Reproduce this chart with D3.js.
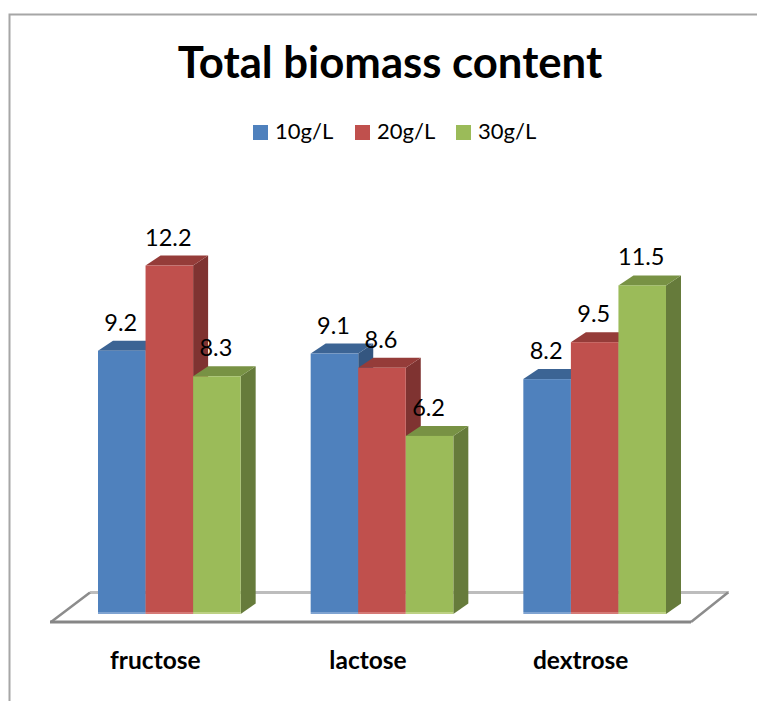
<!DOCTYPE html>
<html>
<head>
<meta charset="utf-8">
<script src="https://cdn.jsdelivr.net/npm/d3@7"></script>
<style>
  html, body { margin: 0; padding: 0; background: #fff; }
  svg { display: block; }
  text { font-family: Lato, "Open Sans", sans-serif; fill: #000; }
  .domain { display: none; }
</style>
</head>
<body>
<script>
const categories = ['fructose', 'lactose', 'dextrose'];
const seriesNames = ['10g/L', '20g/L', '30g/L'];
const values10 = [9.2, 9.1, 8.2];
const values20 = [12.2, 8.6, 9.5];
const values30 = [8.3, 6.2, 11.5];
const seriesValues = [values10, values20, values30];

const WIDTH = 757;
const HEIGHT = 701;
const BASE_Y = 612;
const DEPTH_X = 15;
const DEPTH_Y = 10;

const colors = ['#4f81bd', '#c0504d', '#9bbb59'];
const topColors = ['#3c6494', '#953c39', '#789244'];
const sideColors = ['#345680', '#7f3331', '#667b3b'];
const stripColors = ['#7fa3d1', '#d57a77', '#bdd184'];

var xScale = d3.scaleBand()
    .domain(categories)
    .range([63, 701]);

var groupScale = d3.scaleBand()
    .domain(seriesNames)
    .range([35, xScale.bandwidth() - 35]);

var yScale = d3.scaleLinear()
    .domain([0, 14])
    .range([BASE_Y, BASE_Y - 14 * 28.4]);

var svg = d3.select('body').append('svg')
    .attr('width', WIDTH)
    .attr('height', HEIGHT);

// outer chart frame, cropped at the right and bottom
svg.append('path')
    .attr('d', 'M9.5,701V14.5H757')
    .attr('fill', 'none')
    .attr('stroke', '#a6a6a6')
    .attr('stroke-width', 2);

svg.append('text')
    .attr('x', 390)
    .attr('y', 78)
    .attr('text-anchor', 'middle')
    .attr('font-size', 43.7)
    .attr('font-weight', 700)
    .text('Total biomass content');

// legend
var legendX = d3.scaleOrdinal().domain(seriesNames).range([253, 355, 456]);
var legend = svg.append('g').selectAll('g').data(seriesNames).enter().append('g')
    .attr('transform', function(d) { return 'translate(' + legendX(d) + ',125)'; });
legend.append('rect')
    .attr('width', 15)
    .attr('height', 15)
    .attr('fill', function(d, i) { return colors[i]; });
legend.append('text')
    .attr('x', 22)
    .attr('y', 14)
    .attr('font-size', 22)
    .text(function(d) { return d; });

// floor
svg.append('path')
    .attr('d', 'M90,592.5H729')
    .attr('stroke', '#bdbdbd')
    .attr('stroke-width', 3)
    .attr('fill', 'none');
svg.append('path')
    .attr('d', 'M90,592.5L51,622M728,592.5L691,622')
    .attr('stroke', '#8c8c8c')
    .attr('stroke-width', 2.5)
    .attr('fill', 'none');
svg.append('path')
    .attr('d', 'M50,622H691')
    .attr('stroke', '#868686')
    .attr('stroke-width', 3)
    .attr('fill', 'none');

var poly = d3.line();

var bars = [];
categories.forEach(function(cat, c) {
  seriesNames.forEach(function(name, s) {
    bars.push({cat: cat, name: name, s: s, value: seriesValues[s][c]});
  });
});

var bar = svg.append('g').selectAll('g').data(bars).enter().append('g');

// right side of the bar
bar.append('path')
    .attr('fill', function(d) { return sideColors[d.s]; })
    .attr('d', function(d) {
      var x1 = xScale(d.cat) + groupScale(d.name) + groupScale.bandwidth();
      var y0 = yScale(d.value);
      return poly([[x1, y0], [x1 + DEPTH_X, y0 - DEPTH_Y], [x1 + DEPTH_X, BASE_Y - DEPTH_Y + 1.5], [x1, BASE_Y + 2]]) + 'Z';
    });

// top of the bar
bar.append('path')
    .attr('fill', function(d) { return topColors[d.s]; })
    .attr('d', function(d) {
      var x0 = xScale(d.cat) + groupScale(d.name);
      var x1 = x0 + groupScale.bandwidth();
      var y0 = yScale(d.value);
      return poly([[x0, y0], [x0 + DEPTH_X, y0 - DEPTH_Y], [x1 + DEPTH_X, y0 - DEPTH_Y], [x1, y0]]) + 'Z';
    });

// front of the bar
bar.append('rect')
    .attr('x', function(d) { return xScale(d.cat) + groupScale(d.name); })
    .attr('y', function(d) { return yScale(d.value); })
    .attr('width', groupScale.bandwidth())
    .attr('height', function(d) { return yScale(0) - yScale(d.value); })
    .attr('fill', function(d) { return colors[d.s]; });

// pale strip along the bottom edge
bar.append('rect')
    .attr('x', function(d) { return xScale(d.cat) + groupScale(d.name); })
    .attr('y', yScale(0))
    .attr('width', groupScale.bandwidth())
    .attr('height', 2)
    .attr('fill', function(d) { return stripColors[d.s]; });

// value labels go over every bar
svg.append('g').selectAll('text').data(bars).enter().append('text')
    .attr('x', function(d) { return xScale(d.cat) + groupScale(d.name) + groupScale.bandwidth() / 2 - 1; })
    .attr('y', function(d) { return yScale(d.value) - 20; })
    .attr('text-anchor', 'middle')
    .attr('font-size', 23.5)
    .text(function(d) { return d.value.toFixed(1); });

var xAxis = d3.axisBottom(xScale).tickSize(0).tickPadding(0);
svg.append('g')
    .attr('transform', 'translate(0,652)')
    .call(xAxis)
    .call(function(g) {
      g.selectAll('text')
          .attr('font-size', 24.5)
          .attr('font-weight', 700)
          .attr('dx', -14)
          .attr('dy', 0)
          .attr('y', 17)
          .style('font-family', 'Lato, "Open Sans", sans-serif')
          .style('fill', '#000');
    });
</script>
</body>
</html>
